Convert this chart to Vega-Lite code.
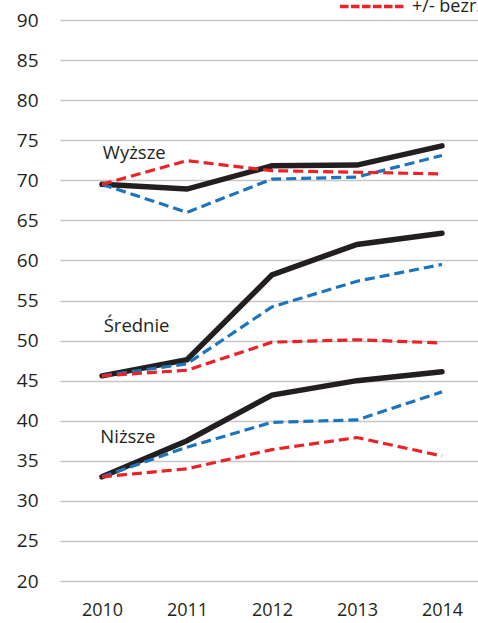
{
  "$schema": "https://vega.github.io/schema/vega-lite/v6.json",
  "width": 418,
  "height": 561,
  "autosize": {"type": "none"},
  "padding": {"left": 60, "top": 20, "right": 0, "bottom": 42},
  "background": "white",
  "config": {
    "view": {"stroke": null},
    "font": "Open Sans",
    "axis": {"labelFont": "Open Sans", "labelColor": "#231f20"}
  },
  "datasets": {
    "lines": [
      {"year": 2010, "group": "Wyższe", "series": "ogółem", "value": 69.5},
      {"year": 2011, "group": "Wyższe", "series": "ogółem", "value": 68.9},
      {"year": 2012, "group": "Wyższe", "series": "ogółem", "value": 71.8},
      {"year": 2013, "group": "Wyższe", "series": "ogółem", "value": 71.9},
      {"year": 2014, "group": "Wyższe", "series": "ogółem", "value": 74.3},
      {"year": 2010, "group": "Wyższe", "series": "bezr.", "value": 69.5},
      {"year": 2011, "group": "Wyższe", "series": "bezr.", "value": 66.0},
      {"year": 2012, "group": "Wyższe", "series": "bezr.", "value": 70.15},
      {"year": 2013, "group": "Wyższe", "series": "bezr.", "value": 70.4},
      {"year": 2014, "group": "Wyższe", "series": "bezr.", "value": 73.1},
      {"year": 2010, "group": "Wyższe", "series": "+/- bezr.", "value": 69.5},
      {"year": 2011, "group": "Wyższe", "series": "+/- bezr.", "value": 72.45},
      {"year": 2012, "group": "Wyższe", "series": "+/- bezr.", "value": 71.2},
      {"year": 2013, "group": "Wyższe", "series": "+/- bezr.", "value": 71.0},
      {"year": 2014, "group": "Wyższe", "series": "+/- bezr.", "value": 70.8},
      {"year": 2010, "group": "Średnie", "series": "ogółem", "value": 45.6},
      {"year": 2011, "group": "Średnie", "series": "ogółem", "value": 47.6},
      {"year": 2012, "group": "Średnie", "series": "ogółem", "value": 58.2},
      {"year": 2013, "group": "Średnie", "series": "ogółem", "value": 62.0},
      {"year": 2014, "group": "Średnie", "series": "ogółem", "value": 63.4},
      {"year": 2010, "group": "Średnie", "series": "bezr.", "value": 45.6},
      {"year": 2011, "group": "Średnie", "series": "bezr.", "value": 47.1},
      {"year": 2012, "group": "Średnie", "series": "bezr.", "value": 54.2},
      {"year": 2013, "group": "Średnie", "series": "bezr.", "value": 57.4},
      {"year": 2014, "group": "Średnie", "series": "bezr.", "value": 59.5},
      {"year": 2010, "group": "Średnie", "series": "+/- bezr.", "value": 45.6},
      {"year": 2011, "group": "Średnie", "series": "+/- bezr.", "value": 46.3},
      {"year": 2012, "group": "Średnie", "series": "+/- bezr.", "value": 49.8},
      {"year": 2013, "group": "Średnie", "series": "+/- bezr.", "value": 50.1},
      {"year": 2014, "group": "Średnie", "series": "+/- bezr.", "value": 49.7},
      {"year": 2010, "group": "Niższe", "series": "ogółem", "value": 33.0},
      {"year": 2011, "group": "Niższe", "series": "ogółem", "value": 37.5},
      {"year": 2012, "group": "Niższe", "series": "ogółem", "value": 43.2},
      {"year": 2013, "group": "Niższe", "series": "ogółem", "value": 45.0},
      {"year": 2014, "group": "Niższe", "series": "ogółem", "value": 46.1},
      {"year": 2010, "group": "Niższe", "series": "bezr.", "value": 33.0},
      {"year": 2011, "group": "Niższe", "series": "bezr.", "value": 36.7},
      {"year": 2012, "group": "Niższe", "series": "bezr.", "value": 39.8},
      {"year": 2013, "group": "Niższe", "series": "bezr.", "value": 40.1},
      {"year": 2014, "group": "Niższe", "series": "bezr.", "value": 43.6},
      {"year": 2010, "group": "Niższe", "series": "+/- bezr.", "value": 33.0},
      {"year": 2011, "group": "Niższe", "series": "+/- bezr.", "value": 34.0},
      {"year": 2012, "group": "Niższe", "series": "+/- bezr.", "value": 36.4},
      {"year": 2013, "group": "Niższe", "series": "+/- bezr.", "value": 37.9},
      {"year": 2014, "group": "Niższe", "series": "+/- bezr.", "value": 35.6}
    ],
    "labels": [
      {"label": "Wyższe", "year": 2010.01, "value": 72.65},
      {"label": "Średnie", "year": 2010.02, "value": 51.1},
      {"label": "Niższe", "year": 2009.98, "value": 37.18}
    ]
  },
  "encoding": {
    "x": {
      "field": "year",
      "type": "quantitative",
      "scale": {"domain": [2009.506, 2014.424], "nice": false, "zero": false},
      "axis": {
        "title": null,
        "values": [2010, 2011, 2012, 2013, 2014],
        "format": "d",
        "grid": false,
        "domain": false,
        "ticks": false,
        "labelFontSize": 18,
        "labelPadding": 20,
        "labelFlush": false
      }
    },
    "y": {
      "field": "value",
      "type": "quantitative",
      "scale": {"domain": [20, 90], "nice": false, "zero": false},
      "axis": {
        "title": null,
        "values": [20, 25, 30, 35, 40, 45, 50, 55, 60, 65, 70, 75, 80, 85, 90],
        "grid": true,
        "gridColor": "#c6c6c6",
        "gridWidth": 1.5,
        "domain": false,
        "ticks": false,
        "labelFontSize": 19,
        "labelPadding": 22,
        "labelFlush": false
      }
    }
  },
  "layer": [
    {
      "data": {"name": "lines"},
      "transform": [{"filter": "datum.series === 'ogółem'"}],
      "mark": {"type": "line", "strokeWidth": 5.5, "strokeCap": "round", "strokeJoin": "miter"},
      "encoding": {
        "detail": {"field": "group"},
        "color": {
          "field": "series",
          "type": "nominal",
          "scale": {"domain": ["ogółem", "bezr.", "+/- bezr."], "range": ["#231f20", "#1c75bc", "#ec2227"]},
          "legend": {
            "values": ["+/- bezr."],
            "title": null,
            "orient": "none",
            "legendX": 278,
            "legendY": -48,
            "padding": 0,
            "symbolType": "stroke",
            "symbolSize": 4225,
            "symbolStrokeWidth": 3.5,
            "symbolDash": [8.5, 2.5],
            "labelFontSize": 18,
            "labelOffset": 5,
            "labelColor": "#231f20",
            "labelFont": "Open Sans"
          }
        }
      }
    },
    {
      "data": {"name": "lines"},
      "transform": [{"filter": "datum.series === 'bezr.'"}],
      "mark": {"type": "line", "strokeWidth": 3.2, "strokeDash": [10, 5]},
      "encoding": {
        "detail": {"field": "group"},
        "color": {"field": "series", "type": "nominal"}
      }
    },
    {
      "data": {"name": "lines"},
      "transform": [{"filter": "datum.series === '+/- bezr.'"}],
      "mark": {"type": "line", "strokeWidth": 3.2, "strokeDash": [10, 5]},
      "encoding": {
        "detail": {"field": "group"},
        "color": {"field": "series", "type": "nominal"}
      }
    },
    {
      "data": {"name": "labels"},
      "mark": {"type": "text", "align": "left", "baseline": "alphabetic", "fontSize": 18.5, "color": "#231f20", "font": "Open Sans"},
      "encoding": {
        "text": {"field": "label"}
      }
    }
  ]
}
